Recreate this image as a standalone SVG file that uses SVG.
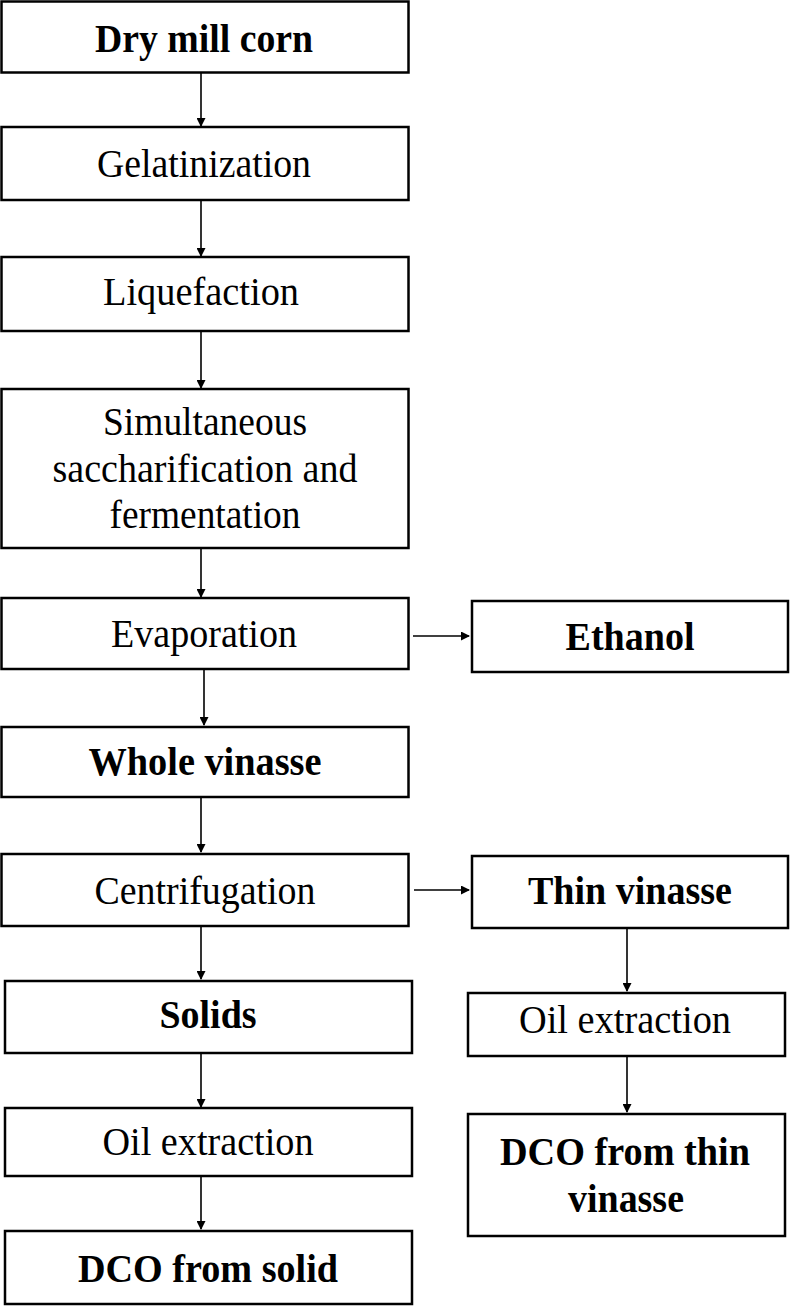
<svg xmlns="http://www.w3.org/2000/svg" width="790" height="1306" viewBox="0 0 790 1306">
<style>
.box{fill:#fff;stroke:#000;stroke-width:2.5}
.t{font-family:"Liberation Serif","Times New Roman",serif;font-size:39px;fill:#000}
.b{font-weight:bold}
.c{stroke:#000;stroke-width:1.6;fill:none;marker-end:url(#ah)}
</style>
<defs>
<marker id="ah" markerWidth="9" markerHeight="9" refX="8" refY="4.5" orient="auto" markerUnits="userSpaceOnUse">
<path d="M0,0 L9,4.5 L0,9 z" fill="#000"/>
</marker>
</defs>
<rect width="790" height="1306" fill="#fff"/>
<g id="connectors">
<line class="c" x1="201" y1="73" x2="201" y2="126"/>
<line class="c" x1="201" y1="200" x2="201" y2="256"/>
<line class="c" x1="201" y1="331" x2="201" y2="388"/>
<line class="c" x1="201" y1="548" x2="201" y2="597"/>
<line class="c" x1="204" y1="669" x2="204" y2="725"/>
<line class="c" x1="413" y1="636" x2="469" y2="636"/>
<line class="c" x1="201" y1="797" x2="201" y2="852"/>
<line class="c" x1="414" y1="890" x2="469" y2="890"/>
<line class="c" x1="201" y1="926" x2="201" y2="979"/>
<line class="c" x1="627" y1="928" x2="627" y2="991"/>
<line class="c" x1="201" y1="1053" x2="201" y2="1107"/>
<line class="c" x1="627" y1="1056" x2="627" y2="1112"/>
<line class="c" x1="201" y1="1176" x2="201" y2="1229"/>
</g>
<g id="n1"><rect class="box" x="1.5" y="1.5" width="407" height="71"/><text class="t b" x="204" y="52" text-anchor="middle" textLength="218" lengthAdjust="spacingAndGlyphs">Dry mill corn</text></g>
<g id="n2"><rect class="box" x="1.5" y="127" width="407" height="73"/><text class="t" x="204" y="177" text-anchor="middle" textLength="214" lengthAdjust="spacingAndGlyphs">Gelatinization</text></g>
<g id="n3"><rect class="box" x="1.5" y="257" width="407" height="74"/><text class="t" x="201" y="305" text-anchor="middle" textLength="196" lengthAdjust="spacingAndGlyphs">Liquefaction</text></g>
<g id="n4"><rect class="box" x="1.5" y="389" width="407" height="159"/>
<text class="t" x="205" y="435" text-anchor="middle" textLength="204" lengthAdjust="spacingAndGlyphs">Simultaneous</text>
<text class="t" x="205" y="482" text-anchor="middle" textLength="305" lengthAdjust="spacingAndGlyphs">saccharification and</text>
<text class="t" x="205" y="528" text-anchor="middle" textLength="191" lengthAdjust="spacingAndGlyphs">fermentation</text></g>
<g id="n5"><rect class="box" x="1.5" y="598" width="407" height="71"/><text class="t" x="204" y="647" text-anchor="middle" textLength="186" lengthAdjust="spacingAndGlyphs">Evaporation</text></g>
<g id="n6"><rect class="box" x="472" y="601" width="316" height="71"/><text class="t b" x="630" y="650" text-anchor="middle" textLength="129" lengthAdjust="spacingAndGlyphs">Ethanol</text></g>
<g id="n7"><rect class="box" x="1.5" y="727" width="407" height="70"/><text class="t b" x="205" y="775" text-anchor="middle" textLength="233" lengthAdjust="spacingAndGlyphs">Whole vinasse</text></g>
<g id="n8"><rect class="box" x="1.5" y="854" width="407" height="72"/><text class="t" x="205" y="904" text-anchor="middle" textLength="221" lengthAdjust="spacingAndGlyphs">Centrifugation</text></g>
<g id="n9"><rect class="box" x="472" y="856" width="316" height="72"/><text class="t b" x="630" y="904" text-anchor="middle" textLength="204" lengthAdjust="spacingAndGlyphs">Thin vinasse</text></g>
<g id="n10"><rect class="box" x="5" y="981" width="407" height="72"/><text class="t b" x="208" y="1028" text-anchor="middle" textLength="97" lengthAdjust="spacingAndGlyphs">Solids</text></g>
<g id="n11"><rect class="box" x="468" y="993" width="317" height="63"/><text class="t" x="625" y="1033" text-anchor="middle" textLength="212" lengthAdjust="spacingAndGlyphs">Oil extraction</text></g>
<g id="n12"><rect class="box" x="5" y="1108" width="407" height="68"/><text class="t" x="208" y="1155" text-anchor="middle" textLength="211" lengthAdjust="spacingAndGlyphs">Oil extraction</text></g>
<g id="n13"><rect class="box" x="468" y="1114" width="317" height="122"/>
<text class="t b" x="625" y="1165" text-anchor="middle" textLength="250" lengthAdjust="spacingAndGlyphs">DCO from thin</text>
<text class="t b" x="626" y="1212" text-anchor="middle" textLength="116" lengthAdjust="spacingAndGlyphs">vinasse</text></g>
<g id="n14"><rect class="box" x="5" y="1231" width="407" height="73"/><text class="t b" x="208" y="1282" text-anchor="middle" textLength="260" lengthAdjust="spacingAndGlyphs">DCO from solid</text></g>
</svg>
